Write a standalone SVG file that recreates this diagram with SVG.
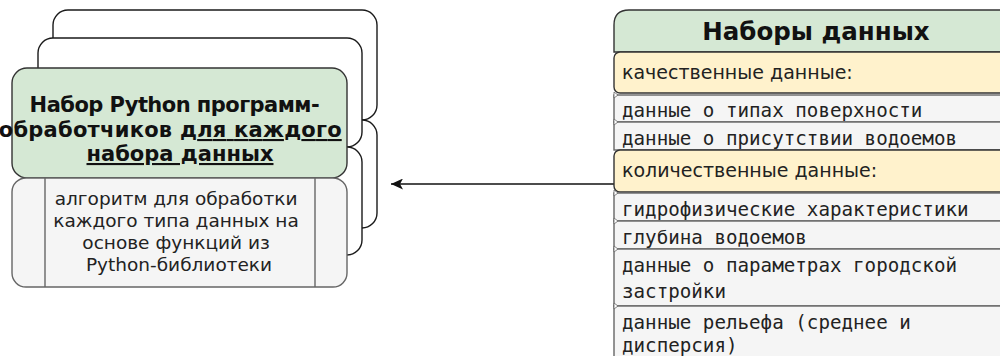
<svg xmlns="http://www.w3.org/2000/svg" width="1000" height="356" viewBox="0 0 1000 356">
  <style>
    .back { fill: #ffffff; stroke: #1a1a1a; stroke-width: 1.4; }
    .green { fill: #d5e8d4; stroke: #333333; stroke-width: 1.4; }
    .yellow { fill: #fff2cc; stroke: #333333; stroke-width: 1.4; }
    .gray { fill: #f5f5f5; stroke: #666666; stroke-width: 1.4; }
    .tick { fill: #ffffff; stroke: #666666; stroke-width: 0.8; }
    .tb { font-family: "DejaVu Sans", Verdana, sans-serif; font-weight: bold; fill: #111111; }
    .tn { font-family: "DejaVu Sans", Verdana, sans-serif; fill: #222222; }
    .tm { font-family: "DejaVu Sans Mono", "Liberation Mono", monospace; fill: #222222; font-size: 19.2px; }
    .edge { stroke: #111111; stroke-width: 1.5; fill: none; }
  </style>
  <defs>
    <marker id="arrow" viewBox="0 0 12 11" refX="12" refY="5.5" markerWidth="12" markerHeight="11" markerUnits="userSpaceOnUse" orient="auto">
      <path d="M0,0 L12,5.5 L0,11 L3,5.5 Z" fill="#111111"/>
    </marker>
  </defs>

  <!-- stacked back cards -->
  <g id="card3">
    <rect class="back" x="53" y="10" width="324" height="110" rx="15"/>
    <rect class="back" x="53" y="120" width="324" height="108" rx="15"/>
  </g>
  <g id="card2">
    <rect class="back" x="38" y="38" width="324" height="109" rx="15"/>
    <rect class="back" x="38" y="147" width="324" height="108" rx="15"/>
  </g>

  <!-- front card -->
  <g id="python-set">
    <rect class="green" x="12" y="68" width="335" height="110" rx="15"/>
    <text class="tb" font-size="21" text-anchor="middle">
      <tspan x="178" y="112" textLength="290" lengthAdjust="spacing">Набор Python программ-</tspan>
      <tspan x="174" y="137" textLength="343" lengthAdjust="spacing">обработчиков <tspan text-decoration="underline">для каждого</tspan></tspan>
      <tspan x="180" y="161" text-decoration="underline">набора данных</tspan>
    </text>
  </g>
  <g id="algorithm">
    <rect class="gray" x="12" y="178" width="335" height="109" rx="14"/>
    <line x1="45" y1="178" x2="45" y2="287" stroke="#666666" stroke-width="1.4"/>
    <line x1="315" y1="178" x2="315" y2="287" stroke="#666666" stroke-width="1.4"/>
    <text class="tn" font-size="18.5" text-anchor="middle">
      <tspan x="179" y="205">алгоритм для обработки</tspan>
      <tspan x="179" y="227">каждого типа данных на</tspan>
      <tspan x="179" y="249">основе функций из</tspan>
      <tspan x="179" y="271">Python-библиотеки</tspan>
    </text>
  </g>

  <!-- connectors -->
  <g id="connectors">
    <line class="edge" x1="614" y1="184" x2="391" y2="184" marker-end="url(#arrow)"/>
  </g>

  <!-- data sets table -->
  <g id="datasets">
    <g id="header">
      <path class="green" d="M614,52 L614,25 Q614,10 629,10 L1014,10 L1014,52 Z"/>
      <text class="tb" font-size="24.5" x="816" y="40" text-anchor="middle">Наборы данных</text>
    </g>
    <g id="qualitative">
      <rect class="yellow" x="614" y="52" width="400" height="41" rx="6"/>
      <text class="tn" font-size="19" x="622" y="79">качественные данные:</text>
    </g>
    <g id="row-surface">
      <rect class="gray" x="614" y="95" width="400" height="27"/>
      <text class="tm" x="622" y="117">данные о типах поверхности</text>
    </g>
    <g id="row-water">
      <rect class="gray" x="614" y="122" width="400" height="28"/>
      <text class="tm" x="622" y="145">данные о присутствии водоемов</text>
    </g>
    <g id="quantitative">
      <rect class="yellow" x="614" y="150" width="400" height="42" rx="6"/>
      <text class="tn" font-size="19" x="622" y="177">количественные данные:</text>
    </g>
    <g id="row-hydro">
      <rect class="gray" x="614" y="193" width="400" height="28"/>
      <text class="tm" x="622" y="216">гидрофизические характеристики</text>
    </g>
    <g id="row-depth">
      <rect class="gray" x="614" y="221" width="400" height="28"/>
      <text class="tm" x="622" y="244">глубина водоемов</text>
    </g>
    <g id="row-urban">
      <rect class="gray" x="614" y="249" width="400" height="57"/>
      <text class="tm"><tspan x="622" y="272">данные о параметрах городской</tspan><tspan x="622" y="298">застройки</tspan></text>
    </g>
    <g id="row-relief">
      <rect class="gray" x="614" y="306" width="400" height="64"/>
      <text class="tm"><tspan x="622" y="329">данные рельефа (среднее и</tspan><tspan x="622" y="352">дисперсия)</tspan></text>
    </g>
    <g id="ticks">
      <polygon class="tick" points="614,92 618,95 614,98"/>
      <polygon class="tick" points="614,119 618,122 614,125"/>
      <polygon class="tick" points="614,190 618,193 614,196"/>
      <polygon class="tick" points="614,218 618,221 614,224"/>
      <polygon class="tick" points="614,246 618,249 614,252"/>
      <polygon class="tick" points="614,303 618,306 614,309"/>
    </g>
  </g>
</svg>
